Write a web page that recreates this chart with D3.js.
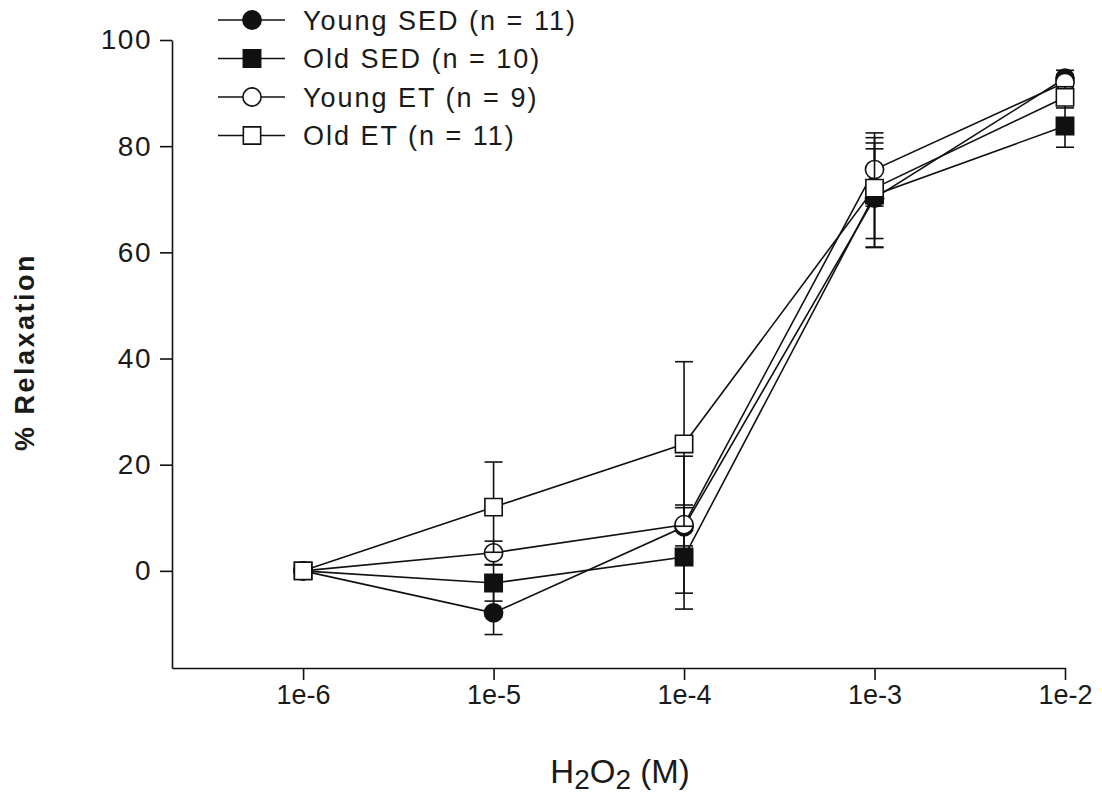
<!DOCTYPE html>
<html>
<head>
<meta charset="utf-8">
<script src="https://cdn.jsdelivr.net/npm/d3@7"></script>
<style>
  body { margin: 0; background: #fff; }
  text { font-family: "Liberation Sans", Arial, sans-serif; fill: #1a1a1a; }
</style>
</head>
<body>
<div id="chart"></div>
<script>
// concentrations (M) and tick labels
var concentrations = [1e-6, 1e-5, 1e-4, 1e-3, 1e-2];
var xTickLabels = ["1e-6", "1e-5", "1e-4", "1e-3", "1e-2"];
var yTicks = [0, 20, 40, 60, 80, 100];

// series names (legend order = draw order)
var seriesNames = ["Young SED (n = 11)", "Old SED (n = 10)", "Young ET (n = 9)", "Old ET (n = 11)"];

// mean % relaxation
var youngSED = [0, -7.9, 8.3, 70.2, 92.8];
var oldSED   = [0, -2.3, 2.6, 70.8, 83.8];
var youngET  = [0, 3.4, 8.7, 75.6, 92.0];
var oldET    = [0, 12.0, 23.9, 72.1, 89.2];

// error bars (SEM)
var youngSEDErr = [0, 4.1, 3.6, 9.3, 1.5];
var oldSEDErr   = [0, 3.4, 9.8, 9.8, 4.0];
var youngETErr  = [0, 2.2, 12.9, 6.9, 1.5];
var oldETErr    = [0, 8.5, 15.5, 9.5, 2.0];

var width = 1102, height = 795;
var margin = {left: 172, right: 37, top: 40, bottom: 127};

var svg = d3.select("#chart").append("svg")
    .attr("width", width)
    .attr("height", height);

// log scale for concentration
var xScale = d3.scaleLog()
    .domain([2.05e-7, 1e-2])
    .range([margin.left, width - margin.right]);

var yScale = d3.scaleLinear()
    .domain([-18.3, 100])
    .range([height - margin.bottom, margin.top]);

// x axis
var xAxis = svg.append("g")
    .attr("transform", "translate(0," + (height - margin.bottom) + ")")
    .call(d3.axisBottom(xScale)
        .tickValues(concentrations)
        .tickFormat(function (d, i) { return xTickLabels[i]; })
        .tickSize(12)
        .tickSizeOuter(0)
        .tickPadding(5));
xAxis.attr("font-size", null).attr("font-family", null);
xAxis.selectAll("text")
    .style("font-family", "'Liberation Sans Narrow', 'Liberation Sans', Arial, sans-serif")
    .style("font-size", "27px")
    .style("fill", "#1a1a1a");

// y axis
var yAxis = svg.append("g")
    .attr("transform", "translate(" + margin.left + ",0)")
    .call(d3.axisLeft(yScale)
        .tickValues(yTicks)
        .tickSize(12)
        .tickSizeOuter(0)
        .tickPadding(8));
yAxis.attr("font-size", null).attr("font-family", null);
yAxis.selectAll("text")
    .style("font-size", "28px")
    .style("letter-spacing", "1.5px")
    .style("fill", "#1a1a1a");

svg.selectAll(".domain, .tick line")
    .attr("stroke", "#111")
    .attr("stroke-width", 1.6);

// axis titles
svg.append("text")
    .attr("transform", "translate(34," + 352 + ") rotate(-90)")
    .attr("text-anchor", "middle")
    .style("font-size", "27px")
    .style("font-weight", "bold")
    .style("letter-spacing", "2.5px")
    .text("% Relaxation");

var xTitle = svg.append("text")
    .attr("x", 620)
    .attr("y", 783)
    .attr("text-anchor", "middle")
    .style("font-size", "33px");
xTitle.append("tspan").text("H");
xTitle.append("tspan").attr("dy", 6).style("font-size", "28px").text("2");
xTitle.append("tspan").attr("dy", -6).text("O");
xTitle.append("tspan").attr("dy", 6).style("font-size", "28px").text("2");
xTitle.append("tspan").attr("dy", -6).text(" (M)");

// series setup
var seriesData = [
    {name: seriesNames[0], values: youngSED, errs: youngSEDErr, shape: d3.symbolCircle, fill: "#111"},
    {name: seriesNames[1], values: oldSED,   errs: oldSEDErr,   shape: d3.symbolSquare, fill: "#111"},
    {name: seriesNames[2], values: youngET,  errs: youngETErr,  shape: d3.symbolCircle, fill: "#fff"},
    {name: seriesNames[3], values: oldET,    errs: oldETErr,    shape: d3.symbolSquare, fill: "#fff"}
];

function symbolSize(shape) {
    return shape === d3.symbolCircle ? 260 : 300;
}

var line = d3.line()
    .x(function (d) { return xScale(d.x); })
    .y(function (d) { return yScale(d.y); });

var capHalf = 9;

seriesData.forEach(function (s) {
    var pts = concentrations.map(function (c, i) {
        return {x: c, y: s.values[i], e: s.errs[i]};
    });
    var g = svg.append("g");

    g.append("path")
        .datum(pts)
        .attr("fill", "none")
        .attr("stroke", "#111")
        .attr("stroke-width", 1.6)
        .attr("d", line);

    // error bars
    var eb = g.selectAll(".err")
        .data(pts.filter(function (d) { return d.e > 0; }))
        .enter().append("g");
    eb.append("line")
        .attr("x1", function (d) { return xScale(d.x); })
        .attr("x2", function (d) { return xScale(d.x); })
        .attr("y1", function (d) { return yScale(d.y + d.e); })
        .attr("y2", function (d) { return yScale(d.y - d.e); })
        .attr("stroke", "#111").attr("stroke-width", 1.6);
    [1, -1].forEach(function (sign) {
        eb.append("line")
            .attr("x1", function (d) { return xScale(d.x) - capHalf; })
            .attr("x2", function (d) { return xScale(d.x) + capHalf; })
            .attr("y1", function (d) { return yScale(d.y + sign * d.e); })
            .attr("y2", function (d) { return yScale(d.y + sign * d.e); })
            .attr("stroke", "#111").attr("stroke-width", 1.6);
    });

    // markers
    g.selectAll(".pt")
        .data(pts)
        .enter().append("path")
        .attr("transform", function (d) { return "translate(" + xScale(d.x) + "," + yScale(d.y) + ")"; })
        .attr("d", d3.symbol().type(s.shape).size(symbolSize(s.shape)))
        .attr("fill", s.fill)
        .attr("stroke", "#111")
        .attr("stroke-width", 1.6);
});

// legend
var legend = svg.append("g");
seriesData.forEach(function (s, i) {
    var ly = 20 + i * 38.5;
    legend.append("line")
        .attr("x1", 218).attr("x2", 285)
        .attr("y1", ly).attr("y2", ly)
        .attr("stroke", "#111").attr("stroke-width", 1.6);
    legend.append("path")
        .attr("transform", "translate(252," + ly + ")")
        .attr("d", d3.symbol().type(s.shape).size(symbolSize(s.shape)))
        .attr("fill", s.fill)
        .attr("stroke", "#111")
        .attr("stroke-width", 1.6);
    legend.append("text")
        .attr("x", 303)
        .attr("y", ly)
        .attr("dy", "0.36em")
        .style("font-size", "27px")
        .style("letter-spacing", "2px")
        .text(s.name);
});
</script>
</body>
</html>
